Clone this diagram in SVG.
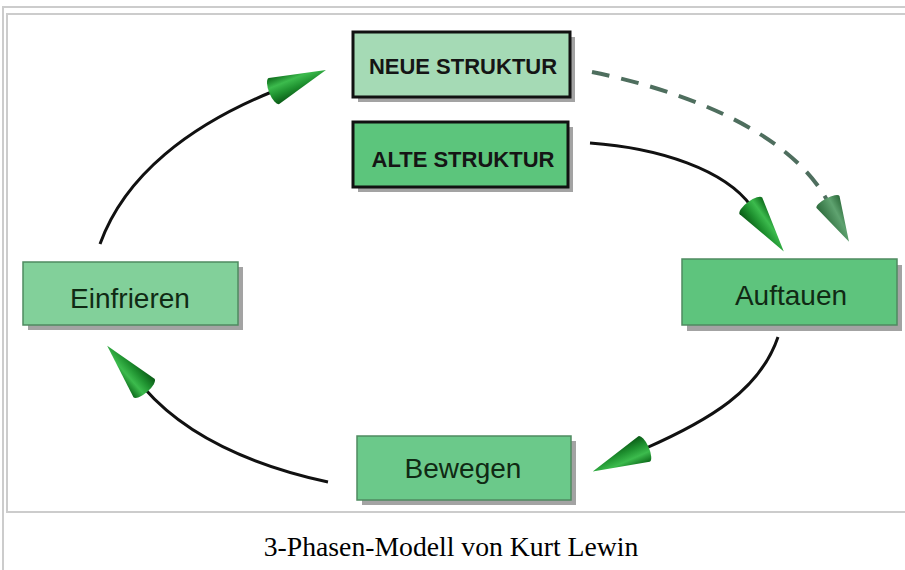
<svg xmlns="http://www.w3.org/2000/svg" width="905" height="570" viewBox="0 0 905 570">
<style>
.frame{fill:none;stroke:#cccccc;stroke-width:2}
.shadow{fill:#a3a3a3}
.struct{stroke:#111;stroke-width:3}
.phase{stroke:#4f8a60;stroke-width:1.5}
.tb{font-family:"Liberation Sans",Arial,sans-serif;font-weight:bold;font-size:22px;fill:#151515;text-anchor:middle}
.tp{font-family:"Liberation Sans",Arial,sans-serif;font-size:28px;fill:#102a14;text-anchor:middle}
.cap{font-family:"Liberation Serif","Times New Roman",serif;font-size:27.7px;fill:#000;text-anchor:middle}
.curve{fill:none;stroke:#111;stroke-width:3}
.dash{fill:none;stroke:#4e6e5e;stroke-width:4;stroke-dasharray:18 12}
</style>
<defs>
<linearGradient id="cone" x1="0" y1="0" x2="0" y2="1">
<stop offset="0" stop-color="#0c6a1a"/>
<stop offset="0.35" stop-color="#3cbb4d"/>
<stop offset="0.65" stop-color="#1f9230"/>
<stop offset="1" stop-color="#0a5a16"/>
</linearGradient>
<linearGradient id="cone2" x1="0" y1="0" x2="0" y2="1">
<stop offset="0" stop-color="#2c6a3a"/>
<stop offset="0.4" stop-color="#5fa370"/>
<stop offset="1" stop-color="#2d6b3c"/>
</linearGradient>
<marker id="head" markerUnits="userSpaceOnUse" viewBox="-6 -16 66 32" markerWidth="66" markerHeight="32" refX="0" refY="0" orient="auto" overflow="visible">
<path d="M0,-14 L56,0 L0,14 A5,14 0 0 1 0,-14 Z" fill="url(#cone)"/>
</marker>
<marker id="head2" markerUnits="userSpaceOnUse" viewBox="-6 -16 56 32" markerWidth="56" markerHeight="32" refX="0" refY="0" orient="auto" overflow="visible">
<path d="M0,-13 L45,0 L0,13 A4,13 0 0 1 0,-13 Z" fill="url(#cone2)"/>
</marker>
</defs>
<rect width="905" height="570" fill="#fff"/>
<g id="frame">
<path class="frame" d="M3,570 V7 H905"/>
<path class="frame" d="M905,14 H7 V512 H905"/>
</g>
<g id="connectors">
<path class="curve" d="M100,244 C125,175 190,125 274,91" marker-end="url(#head)"/>
<path class="curve" d="M590,143 C660,148 725,170 751,206" marker-end="url(#head)"/>
<path class="dash" d="M592,72 C680,90 790,130 828,202" marker-end="url(#head2)"/>
<path class="curve" d="M778,337 C760,390 710,420 644,449" marker-end="url(#head)"/>
<path class="curve" d="M328,482 C250,465 185,435 144,388" marker-end="url(#head)"/>
</g>
<g id="neue">
<rect class="shadow" x="358" y="37" width="217" height="65"/>
<rect class="struct" x="353" y="32" width="217" height="65" fill="#a5dab5"/>
<text class="tb" x="463" y="74">NEUE STRUKTUR</text>
</g>
<g id="alte">
<rect class="shadow" x="358" y="127" width="215" height="65"/>
<rect class="struct" x="353" y="122" width="215" height="65" fill="#5cc57c"/>
<text class="tb" x="463" y="167">ALTE STRUKTUR</text>
</g>
<g id="einfrieren">
<rect class="shadow" x="28" y="267" width="215" height="63"/>
<rect class="phase" x="23" y="262" width="215" height="63" fill="#82d09a"/>
<text class="tp" x="130" y="308">Einfrieren</text>
</g>
<g id="auftauen">
<rect class="shadow" x="687" y="265" width="215" height="66"/>
<rect class="phase" x="682" y="259" width="215" height="66" fill="#5ec47d"/>
<text class="tp" x="791" y="305">Auftauen</text>
</g>
<g id="bewegen">
<rect class="shadow" x="362" y="441" width="214" height="64"/>
<rect class="phase" x="357" y="436" width="214" height="64" fill="#6bc98a"/>
<text class="tp" x="463" y="478">Bewegen</text>
</g>
<text class="cap" x="451" y="556">3-Phasen-Modell von Kurt Lewin</text>
</svg>
